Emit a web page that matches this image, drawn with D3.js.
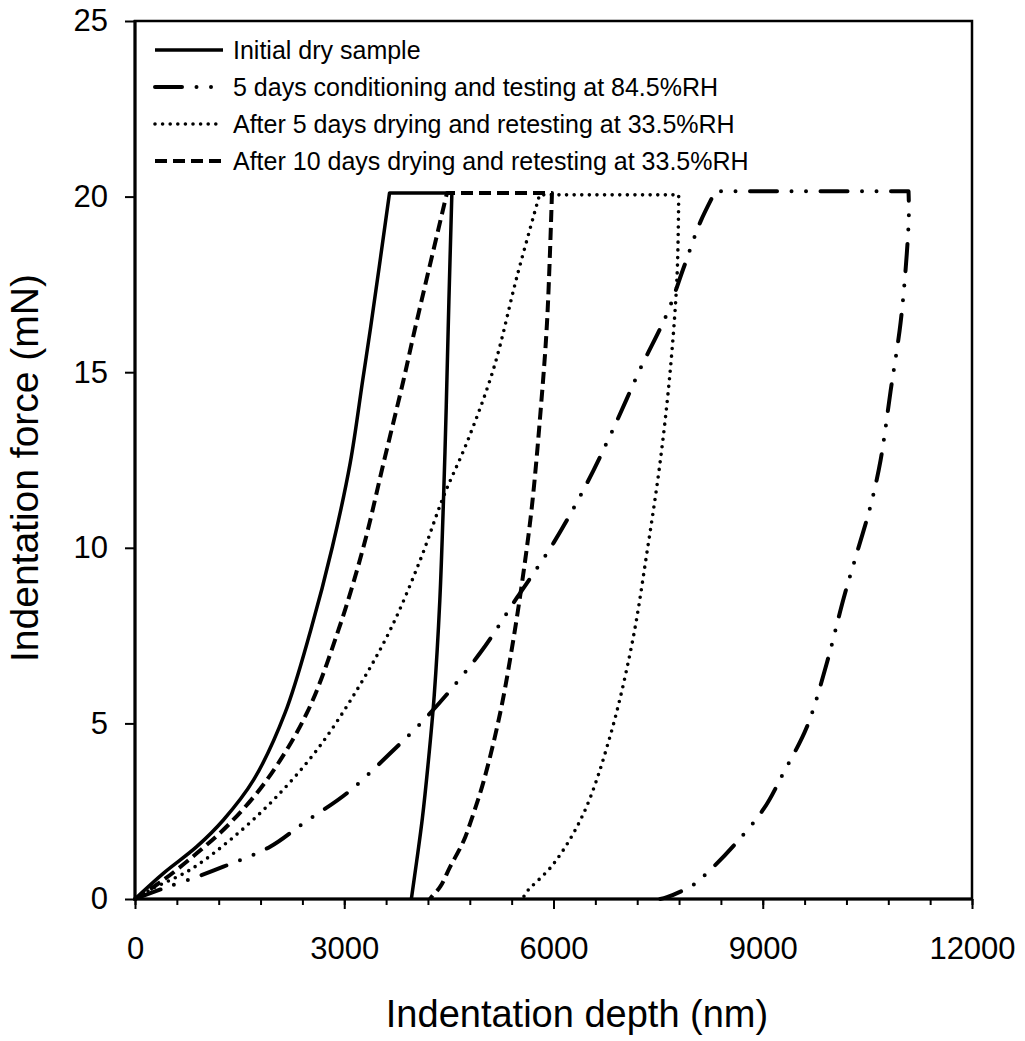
<!DOCTYPE html>
<html>
<head>
<meta charset="utf-8">
<script src="https://cdn.jsdelivr.net/npm/d3@7"></script>
<style>
  html, body { margin: 0; padding: 0; background: #fff; }
  svg { display: block; }
  text { font-family: "Liberation Sans", Arial, Helvetica, sans-serif; fill: #000; }
</style>
</head>
<body>
<svg id="chart" width="1025" height="1041"></svg>
<script>
// Load–hold–unload curves: [depth (nm), force (mN)]
const initialDry = [
  [0, 0], [406, 0.73], [885, 1.49], [1267, 2.25], [1700, 3.39], [2150, 5.29],
  [2520, 7.66], [2830, 10.03], [3085, 12.41], [3265, 14.78], [3380, 16.3], [3649, 20.1],
  [4543, 20.1],
  [4500, 17.0], [4462, 14.0], [4425, 11.5], [4370, 8.5], [4290, 5.8], [4200, 3.8],
  [4120, 2.3], [4040, 1.1], [3962, 0]
];
const humid84 = [
  [0, 0], [406, 0.3], [885, 0.63], [1267, 0.92], [1937, 1.49], [2415, 2.16],
  [3037, 3.01], [3659, 4.15], [4232, 5.29], [4950, 7.01], [5476, 8.58], [6001, 10.14],
  [6480, 11.84], [6862, 13.41], [7245, 15.1], [7628, 16.67], [7867, 17.98], [8106, 19.28],
  [8321, 20.15],
  [11090, 20.15],
  [11095, 19.5], [11065, 18.37], [10976, 16.41], [10832, 14.45], [10689, 12.49],
  [10545, 11.19], [10354, 9.88], [10162, 8.58], [9923, 6.75], [9637, 4.92], [9302, 3.61],
  [9015, 2.57], [8584, 1.52], [8202, 0.74], [8010, 0.41], [7628, 0.05], [7530, 0]
];
const dried5 = [
  [0, 0], [215, 0.26], [789, 0.83], [1363, 1.68], [1985, 2.82], [2607, 4.24],
  [3181, 5.95], [3659, 7.66], [4089, 9.65], [4423, 11.46], [4759, 13.0], [5141, 15.1],
  [5476, 17.72], [5800, 20.05],
  [7795, 20.05],
  [7771, 17.72], [7676, 15.1], [7532, 12.49], [7341, 9.88], [7126, 7.27], [6815, 4.66],
  [6432, 2.44], [6001, 1.0], [5595, 0.15], [5565, 0]
];
const dried10 = [
  [0, 0], [406, 0.54], [885, 1.30], [1363, 2.16], [1890, 3.39], [2463, 5.29],
  [2917, 7.66], [3276, 10.03], [3563, 12.41], [3850, 14.78], [4010, 16.2], [4472, 20.1],
  [5978, 20.1],
  [5907, 16.41], [5811, 13.8], [5691, 11.19], [5565, 9.23], [5415, 7.27], [5237, 5.31],
  [4998, 3.35], [4806, 2.16], [4711, 1.65], [4519, 0.92], [4376, 0.35], [4256, 0.07], [4230, 0]
];

const seriesNames = [
  "Initial dry sample",
  "5 days conditioning and testing at 84.5%RH",
  "After 5 days drying and retesting at 33.5%RH",
  "After 10 days drying and retesting at 33.5%RH"
];

const xTicksMajor = [0, 3000, 6000, 9000, 12000];
const yTicks = [0, 5, 10, 15, 20, 25];

// line styles per series (solid, dash-dot-dot, dotted, dashed)
const styles = [
  { width: 3.5, dash: null, cap: "butt" },
  { width: 4, dash: "27 14.5 0 14.5 0 14.5", cap: "round" },
  { width: 3.6, dash: "0 7.6", cap: "round" },
  { width: 4, dash: "12 6", cap: "butt" }
];
const seriesData = [initialDry, humid84, dried5, dried10];

const svg = d3.select("#chart");
const plotLeft = 135, plotRight = 972, plotTop = 21, plotBottom = 899;

const x = d3.scaleLinear().domain([0, 12000]).range([plotLeft, plotRight]);
const y = d3.scaleLinear().domain([0, 25]).range([plotBottom, plotTop]);

// plot frame
svg.append("rect")
  .attr("x", plotLeft).attr("y", plotTop)
  .attr("width", plotRight - plotLeft).attr("height", plotBottom - plotTop)
  .attr("fill", "none").attr("stroke", "#000").attr("stroke-width", 2.5);

// x axis: minor ticks every 600 nm, labelled majors every 3000 nm
const xMinor = svg.append("g").attr("transform", `translate(0,${plotBottom})`)
  .call(d3.axisBottom(x).tickValues(d3.range(0, 12001, 600)).tickSize(6).tickFormat(""));
const xMajor = svg.append("g").attr("transform", `translate(0,${plotBottom})`)
  .call(d3.axisBottom(x).tickValues(xTicksMajor).tickSize(10).tickPadding(28).tickFormat(d3.format("d")));
[xMinor, xMajor].forEach(g => {
  g.select(".domain").remove();
  g.selectAll("line").attr("stroke", "#000").attr("stroke-width", 2);
});
xMajor.selectAll("text").attr("font-size", 31).attr("font-family", null);

const yAxis = svg.append("g").attr("transform", `translate(${plotLeft},0)`)
  .call(d3.axisLeft(y).tickValues(yTicks).tickSize(10).tickPadding(17).tickFormat(d3.format("d")));
yAxis.select(".domain").remove();
yAxis.selectAll("line").attr("stroke", "#000").attr("stroke-width", 2);
yAxis.selectAll("text").attr("font-size", 31).attr("font-family", null);

// heavier left and bottom axis lines
svg.append("line").attr("x1", plotLeft).attr("x2", plotLeft).attr("y1", plotTop - 1).attr("y2", plotBottom + 1.5)
  .attr("stroke", "#000").attr("stroke-width", 3);
svg.append("line").attr("x1", plotLeft - 1.5).attr("x2", plotRight + 1).attr("y1", plotBottom).attr("y2", plotBottom)
  .attr("stroke", "#000").attr("stroke-width", 3);

// axis titles
svg.append("text")
  .attr("x", 577).attr("y", 1027)
  .attr("text-anchor", "middle").attr("font-size", 38)
  .text("Indentation depth (nm)");
svg.append("text")
  .attr("transform", "translate(38,468) rotate(-90)")
  .attr("text-anchor", "middle").attr("font-size", 39)
  .text("Indentation force (mN)");

// curves: smooth loading branch, straight hold at peak force, smooth unloading branch
const branch = d3.line()
  .x(d => x(d[0])).y(d => y(d[1]))
  .curve(d3.curveCatmullRom.alpha(0.5));

function loopPath(data) {
  const peak = d3.max(data, d => d[1]);
  const i1 = data.findIndex(d => d[1] === peak);
  let i2 = i1;
  while (i2 + 1 < data.length && data[i2 + 1][1] === peak) i2++;
  const loading = data.slice(0, i1 + 1);
  const unloading = data.slice(i2);
  return branch(loading) + "L" + branch(unloading).slice(1);
}

seriesData.forEach((data, i) => {
  const s = styles[i];
  svg.append("path")
    .attr("d", loopPath(data))
    .attr("fill", "none")
    .attr("stroke", "#000")
    .attr("stroke-width", s.width)
    .attr("stroke-linecap", s.cap)
    .attr("stroke-linejoin", "round")
    .attr("stroke-dasharray", s.dash);
});

// legend
const legend = svg.append("g");
seriesNames.forEach((name, i) => {
  const s = styles[i];
  const base = 59 + i * 37;
  legend.append("line")
    .attr("x1", 155).attr("x2", 223)
    .attr("y1", base - 9).attr("y2", base - 9)
    .attr("stroke", "#000")
    .attr("stroke-width", s.width)
    .attr("stroke-linecap", s.cap)
    .attr("stroke-dasharray", s.dash);
  legend.append("text")
    .attr("x", 233).attr("y", base)
    .attr("font-size", 25)
    .text(name);
});
</script>
</body>
</html>
